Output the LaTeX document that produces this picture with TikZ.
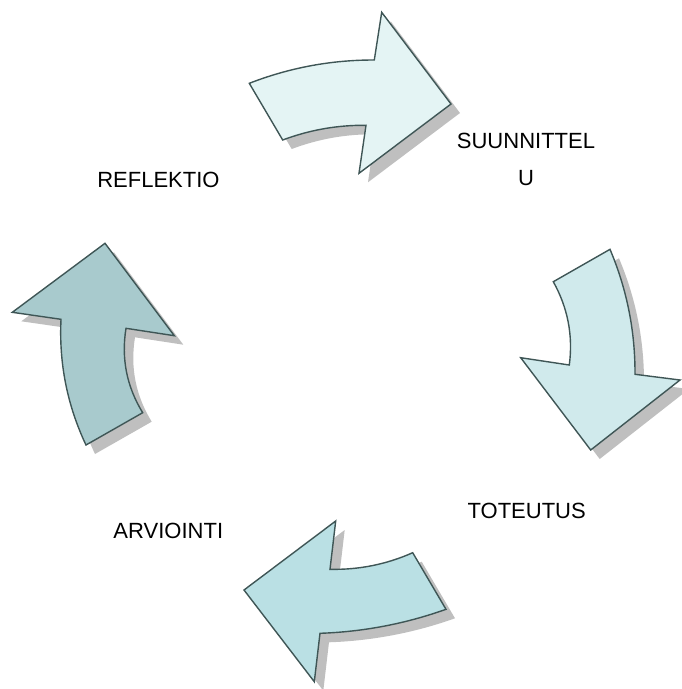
\documentclass[tikz,border=0pt]{standalone}
\usepackage{fontspec}
\setmainfont{Liberation Sans}
\usetikzlibrary{shadows}
\definecolor{edgegray}{HTML}{3F5656}
\definecolor{planfill}{HTML}{E4F4F4}
\definecolor{dofill}{HTML}{D0EAEC}
\definecolor{evalfill}{HTML}{BAE0E4}
\definecolor{reflfill}{HTML}{A8CACD}

\begin{document}
\begin{tikzpicture}[x=1pt,y=-1pt,
	blockarrow/.style={draw=edgegray, line width=1.4pt, line join=miter,
	drop shadow={shadow xshift=9pt, shadow yshift=-9pt, fill=black!25, opacity=1}},
	phase/.style={font=\fontsize{22}{37.4}\selectfont, inner sep=0pt, anchor=base, align=center}]
\useasboundingbox (0,0) rectangle (681,689);

% suunnittelu
\draw[blockarrow, fill=planfill] (249.3,83.3) .. controls (289.5,67.7) and (331.2,59.9) .. (374.3,60)
	-- (381.7,12.3) -- (451,104) -- (359,173.3) -- (366,125.3)
	.. controls (337.3,125) and (309.6,129.9) .. (282.7,140) -- cycle;
% toteutus
\draw[blockarrow, fill=dofill] (610,249.3) -- (553.3,281.7)
	.. controls (567.8,307.8) and (573.2,335.5) .. (569.3,365) -- (520.7,357.7) -- (590.7,450)
	-- (680,380) -- (635,374.3) .. controls (635.2,331) and (626.9,289.3) .. cycle;
% arviointi
\draw[blockarrow, fill=evalfill] (412.7,552.7) -- (446,609.3)
	.. controls (405.3,623.8) and (363.3,631.8) .. (320,633.3) -- (314.3,681.7) -- (244,590)
	-- (335.7,521) -- (330,569.3) .. controls (358.8,569.9) and (386.4,564.4) .. cycle;
% reflektio
\draw[blockarrow, fill=reflfill] (86,445) -- (142.7,412.7)
	.. controls (126.7,386.6) and (121.1,358.5) .. (126,328.3) -- (174.3,335.7) -- (105,243.3)
	-- (12.3,312.3) -- (61,319.3) .. controls (58.9,363.3) and (67.2,405.2) .. cycle;

\node[phase] (suunnittelu) at (526,185.7) {SUUNNITTEL\\U};
\node[phase] (toteutus) at (526.7,518.3) {TOTEUTUS};
\node[phase] (arviointi) at (168.3,538.3) {ARVIOINTI};
\node[phase] (reflektio) at (158.4,187.3) {REFLEKTIO};
\end{tikzpicture}
\end{document}
